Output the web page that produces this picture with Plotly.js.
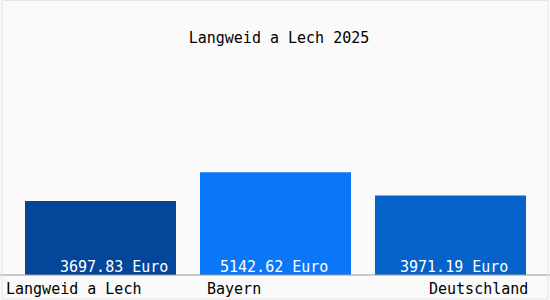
<!DOCTYPE html>
<html>
<head>
<meta charset="utf-8">
<script src="https://cdn.plot.ly/plotly-3.0.1.min.js"></script>
<style>html,body{margin:0;padding:0;background:#fafafa;}#chart{width:550px;height:300px;}</style>
</head>
<body>
<div id="chart"></div>
<script>
const categories = ["Langweid a Lech", "Bayern", "Deutschland"];
const values = [3697.83, 5142.62, 3971.19];
const valueLabels = ["3697.83 Euro", "5142.62 Euro", "3971.19 Euro"];
const chartTitle = "Langweid a Lech 2025";

const barColors = ["#03469a", "#0a77f8", "#0562c8"];
const valShift = [13, -2, 3];
const tickAnchor = ["left", "left", "right"];
const tickShift = [-96.5, -71, 79];
const font = "DejaVu Sans Mono, monospace";

const annotations = [];
categories.forEach((c, i) => {
  annotations.push({
    x: c, y: 0, xref: "x", yref: "y", text: valueLabels[i], showarrow: false,
    xanchor: "center", yanchor: "bottom", xshift: valShift[i], yshift: -3,
    font: {family: font, size: 15, color: "#ffffff"}
  });
  annotations.push({
    x: c, y: 0, xref: "x", yref: "paper", text: c, showarrow: false,
    xanchor: tickAnchor[i], yanchor: "top", xshift: tickShift[i], yshift: -3,
    font: {family: font, size: 15, color: "#000000"}
  });
});

Plotly.newPlot("chart", [{
  type: "bar", x: categories, y: values,
  marker: {color: barColors, line: {width: 0}},
  hoverinfo: "none"
}], {
  width: 550, height: 300,
  margin: {l: 13, r: 12, t: 35, b: 25, autoexpand: false},
  paper_bgcolor: "#fafafa", plot_bgcolor: "#fafafa",
  bargap: 0.137,
  showlegend: false,
  title: {text: chartTitle, x: 266/525, xref: "paper", y: 1 - 38/300, yref: "container", yanchor: "middle",
          font: {family: font, size: 15, color: "#000000"}},
  xaxis: {range: [-0.5, 2.5], autorange: false, showticklabels: false, ticks: "", showgrid: false, zeroline: false, showline: false, fixedrange: true},
  yaxis: {range: [0, 12000], autorange: false, showticklabels: false, ticks: "", showgrid: false, zeroline: false, showline: false, fixedrange: true},
  annotations: annotations,
  shapes: [
    {type: "line", xref: "paper", yref: "paper", x0: -13/525, x1: 537/525, y0: 0, y1: 0, line: {color: "#999999", width: 1}},
    {type: "rect", xref: "paper", yref: "paper", x0: -11/525, x1: 535/525, y0: -24/240, y1: 274.5/240, line: {color: "#e6e6e6", width: 1}}
  ]
}, {staticPlot: true});
</script>
</body>
</html>
